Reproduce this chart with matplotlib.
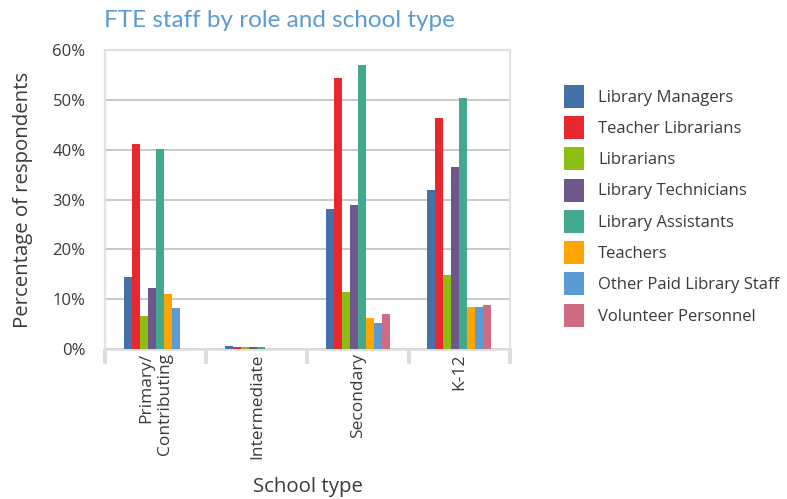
import matplotlib
matplotlib.use("Agg")
import matplotlib.pyplot as plt
import numpy as np
from matplotlib.ticker import FixedLocator, PercentFormatter

# School types (x categories)
categories = ["Primary/\nContributing", "Intermediate", "Secondary", "K-12"]

# Share of respondents (%) per role, one list per series across school types
roles = [
    "Library Managers",
    "Teacher Librarians",
    "Librarians",
    "Library Technicians",
    "Library Assistants",
    "Teachers",
    "Other Paid Library Staff",
    "Volunteer Personnel",
]
library_managers = [14.4, 0.6, 28.1, 31.9]
teacher_librarians = [41.2, 0.4, 54.4, 46.4]
librarians = [6.6, 0.4, 11.4, 14.9]
library_technicians = [12.2, 0.4, 28.9, 36.5]
library_assistants = [40.2, 0.4, 57.0, 50.4]
teachers = [11.0, 0.0, 6.2, 8.4]
other_paid_staff = [8.2, 0.0, 5.2, 8.4]
volunteer_personnel = [0.0, 0.0, 7.0, 8.8]

series = [
    library_managers,
    teacher_librarians,
    librarians,
    library_technicians,
    library_assistants,
    teachers,
    other_paid_staff,
    volunteer_personnel,
]
colors = ["#4472a8", "#e8272f", "#8cbe14", "#6f578c",
          "#42a98e", "#fea500", "#5b9bd3", "#d06b82"]

text_font = ["Open Sans", "DejaVu Sans"]
text_color = "#3a3a3a"
plt.rcParams["font.family"] = text_font

fig = plt.figure(figsize=(7.87, 4.99), dpi=100)
ax = fig.add_axes([0.1334, 0.3006, 0.5146, 0.5992])

x = np.arange(len(categories))
bar_w = 0.079
n = len(series)
for j, (vals, col, name) in enumerate(zip(series, colors, roles)):
    ax.bar(x + (j - (n - 1) / 2) * bar_w, vals, width=bar_w, color=col,
           label=name, linewidth=0, zorder=3)

ax.set_xlim(-0.5, len(categories) - 0.5)
ax.set_ylim(0, 60)
ax.yaxis.set_major_locator(FixedLocator(np.arange(0, 61, 10)))
ax.yaxis.set_major_formatter(PercentFormatter(decimals=0))
ax.grid(axis="y", color="#c9c9c9", linewidth=1.4, zorder=0)
ax.tick_params(axis="y", length=0, pad=14, labelsize=12, labelcolor=text_color)

# category labels at centers, boundary tick marks between categories
ax.set_xticks(x)
ax.set_xticklabels(categories, rotation=90, ha="center", va="top",
                   multialignment="right", fontsize=12.5, color=text_color)
ax.tick_params(axis="x", which="major", length=0, pad=3)
ax.set_xticks(np.arange(-0.5, len(categories), 1.0), minor=True)
ax.tick_params(axis="x", which="minor", length=11, width=2.8, color="#dcdcdc")

for side in ["top", "right", "left"]:
    ax.spines[side].set_color("#e2e2e2")
    ax.spines[side].set_linewidth(1.6)
ax.spines["bottom"].set_color("#dcdcdc")
ax.spines["bottom"].set_linewidth(1.8)

ax.set_ylabel("Percentage of respondents", fontsize=14.7, color=text_color,
              labelpad=14)
ax.set_xlabel("School type", fontsize=14.7, color=text_color, labelpad=13)

fig.text(0.132, 0.958, "FTE staff by role and school type", fontsize=17.5,
         color="#5b9bd3", family=["Lato", "DejaVu Sans"], va="center",
         ha="left")

leg = ax.legend(loc="upper left", bbox_to_anchor=(1.117, 0.906), frameon=False,
                fontsize=12, handlelength=1.2, handleheight=1.74,
                handletextpad=0.85, labelspacing=0.5, borderaxespad=0)
for t in leg.get_texts():
    t.set_color(text_color)

fig.savefig("out.png", dpi=100)
